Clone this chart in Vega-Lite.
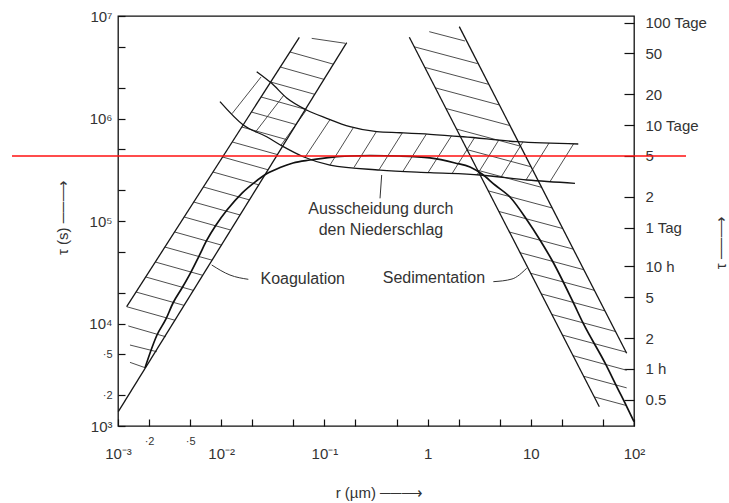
{
  "$schema": "https://vega.github.io/schema/vega-lite/v6.json",
  "width": 516,
  "height": 410,
  "autosize": "none",
  "padding": {"left": 118, "top": 16, "right": 95, "bottom": 77},
  "background": "white",
  "config": {
    "font": "Liberation Sans",
    "view": {"stroke": "#111", "strokeWidth": 1.3},
    "axis": {"grid": false, "domain": false, "labelColor": "#333", "titleColor": "#333", "tickColor": "#111", "tickWidth": 1.2, "titleFontWeight": "normal", "titleFontSize": 15, "labelOverlap": false, "labelFlush": false}
  },
  "datasets": {
    "hatch": [
      {"band": "Koagulation", "r1": -2.916, "t1": 4.164, "r2": -2.449, "t2": 4.032},
      {"band": "Koagulation", "r1": -2.825, "t1": 4.307, "r2": -2.360, "t2": 4.177},
      {"band": "Koagulation", "r1": -2.732, "t1": 4.454, "r2": -2.269, "t2": 4.323},
      {"band": "Koagulation", "r1": -2.639, "t1": 4.600, "r2": -2.179, "t2": 4.470},
      {"band": "Koagulation", "r1": -2.546, "t1": 4.746, "r2": -2.089, "t2": 4.618},
      {"band": "Koagulation", "r1": -2.452, "t1": 4.893, "r2": -1.998, "t2": 4.765},
      {"band": "Koagulation", "r1": -2.359, "t1": 5.039, "r2": -1.908, "t2": 4.912},
      {"band": "Koagulation", "r1": -2.266, "t1": 5.185, "r2": -1.818, "t2": 5.059},
      {"band": "Koagulation", "r1": -2.173, "t1": 5.332, "r2": -1.727, "t2": 5.206},
      {"band": "Koagulation", "r1": -2.080, "t1": 5.478, "r2": -1.637, "t2": 5.353},
      {"band": "Koagulation", "r1": -1.986, "t1": 5.624, "r2": -1.547, "t2": 5.500},
      {"band": "Koagulation", "r1": -1.893, "t1": 5.771, "r2": -1.455, "t2": 5.648},
      {"band": "Koagulation", "r1": -1.800, "t1": 5.917, "r2": -1.365, "t2": 5.794},
      {"band": "Koagulation", "r1": -1.707, "t1": 6.063, "r2": -1.275, "t2": 5.941},
      {"band": "Koagulation", "r1": -1.614, "t1": 6.210, "r2": -1.184, "t2": 6.089},
      {"band": "Koagulation", "r1": -1.521, "t1": 6.356, "r2": -1.094, "t2": 6.236},
      {"band": "Koagulation", "r1": -1.427, "t1": 6.502, "r2": -1.004, "t2": 6.382},
      {"band": "Koagulation", "r1": -1.334, "t1": 6.649, "r2": -0.913, "t2": 6.530},
      {"band": "Koagulation", "r1": -1.123, "t1": 6.782, "r2": -0.800, "t2": 6.734},
      {"band": "Koagulation", "r1": -2.900, "t1": 3.976, "r2": -2.538, "t2": 3.871},
      {"band": "Koagulation", "r1": -2.884, "t1": 3.790, "r2": -2.625, "t2": 3.725},
      {"band": "Koagulation", "r1": -2.884, "t1": 3.621, "r2": -2.738, "t2": 3.569},
      {"band": "Sedimentation", "r1": -0.131, "t1": 6.700, "r2": 0.485, "t2": 6.535},
      {"band": "Sedimentation", "r1": -0.028, "t1": 6.499, "r2": 0.588, "t2": 6.334},
      {"band": "Sedimentation", "r1": 0.075, "t1": 6.299, "r2": 0.691, "t2": 6.133},
      {"band": "Sedimentation", "r1": 0.177, "t1": 6.098, "r2": 0.794, "t2": 5.932},
      {"band": "Sedimentation", "r1": 0.280, "t1": 5.897, "r2": 0.896, "t2": 5.731},
      {"band": "Sedimentation", "r1": 0.383, "t1": 5.696, "r2": 0.999, "t2": 5.530},
      {"band": "Sedimentation", "r1": 0.485, "t1": 5.495, "r2": 1.102, "t2": 5.329},
      {"band": "Sedimentation", "r1": 0.588, "t1": 5.294, "r2": 1.204, "t2": 5.128},
      {"band": "Sedimentation", "r1": 0.691, "t1": 5.093, "r2": 1.307, "t2": 4.927},
      {"band": "Sedimentation", "r1": 0.794, "t1": 4.892, "r2": 1.410, "t2": 4.726},
      {"band": "Sedimentation", "r1": 0.896, "t1": 4.691, "r2": 1.513, "t2": 4.525},
      {"band": "Sedimentation", "r1": 0.999, "t1": 4.490, "r2": 1.615, "t2": 4.324},
      {"band": "Sedimentation", "r1": 1.102, "t1": 4.289, "r2": 1.718, "t2": 4.123},
      {"band": "Sedimentation", "r1": 1.204, "t1": 4.088, "r2": 1.821, "t2": 3.922},
      {"band": "Sedimentation", "r1": 1.307, "t1": 3.887, "r2": 1.923, "t2": 3.721},
      {"band": "Sedimentation", "r1": 1.410, "t1": 3.686, "r2": 1.929, "t2": 3.544},
      {"band": "Sedimentation", "r1": 1.513, "t1": 3.485, "r2": 1.929, "t2": 3.372},
      {"band": "Sedimentation", "r1": 1.615, "t1": 3.284, "r2": 1.929, "t2": 3.199},
      {"band": "Sedimentation", "r1": 0.016, "t1": 6.847, "r2": 0.362, "t2": 6.756},
      {"band": "Niederschlag", "r1": -1.895, "t1": 6.047, "r2": -1.614, "t2": 6.405},
      {"band": "Niederschlag", "r1": -1.663, "t1": 5.874, "r2": -1.392, "t2": 6.229},
      {"band": "Niederschlag", "r1": -1.421, "t1": 5.739, "r2": -1.174, "t2": 6.083},
      {"band": "Niederschlag", "r1": -1.188, "t1": 5.622, "r2": -0.946, "t2": 5.989},
      {"band": "Niederschlag", "r1": -0.946, "t1": 5.546, "r2": -0.718, "t2": 5.913},
      {"band": "Niederschlag", "r1": -0.713, "t1": 5.523, "r2": -0.497, "t2": 5.871},
      {"band": "Niederschlag", "r1": -0.471, "t1": 5.499, "r2": -0.245, "t2": 5.860},
      {"band": "Niederschlag", "r1": -0.238, "t1": 5.486, "r2": -0.012, "t2": 5.848},
      {"band": "Niederschlag", "r1": 0.004, "t1": 5.472, "r2": 0.232, "t2": 5.831},
      {"band": "Niederschlag", "r1": 0.236, "t1": 5.461, "r2": 0.454, "t2": 5.812},
      {"band": "Niederschlag", "r1": 0.479, "t1": 5.450, "r2": 0.690, "t2": 5.790},
      {"band": "Niederschlag", "r1": 0.711, "t1": 5.427, "r2": 0.924, "t2": 5.771},
      {"band": "Niederschlag", "r1": 0.954, "t1": 5.401, "r2": 1.177, "t2": 5.761},
      {"band": "Niederschlag", "r1": 1.186, "t1": 5.384, "r2": 1.415, "t2": 5.753}
    ],
    "edges": [
      {"id": "L", "o": 0, "r": -2.916, "t": 4.164}, {"id": "L", "o": 1, "r": -1.243, "t": 6.792},
      {"id": "R", "o": 0, "r": -2.997, "t": 3.140}, {"id": "R", "o": 1, "r": -0.784, "t": 6.740},
      {"id": "SL", "o": 0, "r": -0.177, "t": 6.792}, {"id": "SL", "o": 1, "r": 1.664, "t": 3.188},
      {"id": "SR", "o": 0, "r": 0.307, "t": 6.896}, {"id": "SR", "o": 1, "r": 1.929, "t": 3.709},
      {"id": "PU", "o": 0, "r": -1.656, "t": 6.457}, {"id": "PU", "o": 1, "r": -1.511, "t": 6.343},
      {"id": "PU", "o": 2, "r": -1.365, "t": 6.200}, {"id": "PU", "o": 3, "r": -1.172, "t": 6.083},
      {"id": "PU", "o": 4, "r": -0.978, "t": 6.002}, {"id": "PU", "o": 5, "r": -0.752, "t": 5.920},
      {"id": "PU", "o": 6, "r": -0.493, "t": 5.871}, {"id": "PU", "o": 7, "r": -0.267, "t": 5.861},
      {"id": "PU", "o": 8, "r": 0.023, "t": 5.846}, {"id": "PU", "o": 9, "r": 0.346, "t": 5.822},
      {"id": "PU", "o": 10, "r": 0.863, "t": 5.774}, {"id": "PU", "o": 11, "r": 1.460, "t": 5.751},
      {"id": "PL", "o": 0, "r": -2.012, "t": 6.164}, {"id": "PL", "o": 1, "r": -1.786, "t": 5.936},
      {"id": "PL", "o": 2, "r": -1.559, "t": 5.822}, {"id": "PL", "o": 3, "r": -1.398, "t": 5.725},
      {"id": "PL", "o": 4, "r": -1.205, "t": 5.627}, {"id": "PL", "o": 5, "r": -0.946, "t": 5.546},
      {"id": "PL", "o": 6, "r": -0.461, "t": 5.497}, {"id": "PL", "o": 7, "r": 0.023, "t": 5.471},
      {"id": "PL", "o": 8, "r": 0.508, "t": 5.449}, {"id": "PL", "o": 9, "r": 0.963, "t": 5.400},
      {"id": "PL", "o": 10, "r": 1.428, "t": 5.368}
    ],
    "curve": [
      {"o": 0, "r": -2.738, "t": 3.569}, {"o": 1, "r": -2.622, "t": 3.888},
      {"o": 2, "r": -2.535, "t": 4.044}, {"o": 3, "r": -2.467, "t": 4.200},
      {"o": 4, "r": -2.380, "t": 4.346}, {"o": 5, "r": -2.293, "t": 4.502},
      {"o": 6, "r": -2.215, "t": 4.658}, {"o": 7, "r": -2.138, "t": 4.815},
      {"o": 8, "r": -2.050, "t": 4.961}, {"o": 9, "r": -1.944, "t": 5.107},
      {"o": 10, "r": -1.798, "t": 5.273}, {"o": 11, "r": -1.673, "t": 5.380},
      {"o": 12, "r": -1.556, "t": 5.463}, {"o": 13, "r": -1.430, "t": 5.522},
      {"o": 14, "r": -1.304, "t": 5.566}, {"o": 15, "r": -1.140, "t": 5.595},
      {"o": 16, "r": -0.917, "t": 5.624}, {"o": 17, "r": -0.752, "t": 5.634},
      {"o": 18, "r": -0.558, "t": 5.639}, {"o": 19, "r": -0.267, "t": 5.634},
      {"o": 20, "r": 0.023, "t": 5.615}, {"o": 21, "r": 0.266, "t": 5.566},
      {"o": 22, "r": 0.411, "t": 5.527}, {"o": 23, "r": 0.527, "t": 5.458},
      {"o": 24, "r": 0.653, "t": 5.351}, {"o": 25, "r": 0.798, "t": 5.234},
      {"o": 26, "r": 0.963, "t": 5.010}, {"o": 27, "r": 1.089, "t": 4.815},
      {"o": 28, "r": 1.215, "t": 4.600}, {"o": 29, "r": 1.409, "t": 4.210},
      {"o": 30, "r": 1.506, "t": 4.005}, {"o": 31, "r": 1.719, "t": 3.615},
      {"o": 32, "r": 1.835, "t": 3.380}, {"o": 33, "r": 1.932, "t": 3.185},
      {"o": 34, "r": 2.000, "t": 3.042}
    ],
    "leaders": [
      {"id": "K", "o": 0, "r": -1.737, "t": 4.431}, {"id": "K", "o": 1, "r": -1.915, "t": 4.473}, {"id": "K", "o": 2, "r": -2.092, "t": 4.571},
      {"id": "S", "o": 0, "r": 0.637, "t": 4.408}, {"id": "S", "o": 1, "r": 0.818, "t": 4.434}, {"id": "S", "o": 2, "r": 0.960, "t": 4.539},
      {"id": "N", "o": 0, "r": -0.445, "t": 5.449}, {"id": "N", "o": 1, "r": -0.461, "t": 5.221}
    ],
    "notes": [
      {"txt": "Koagulation", "r": -1.210, "t": 4.431},
      {"txt": "Sedimentation", "r": 0.061, "t": 4.441},
      {"txt": "Ausscheidung durch", "r": -0.453, "t": 5.117},
      {"txt": "den Niederschlag", "r": -0.452, "t": 4.912}
    ],
    "marker": [
      {"r": -4.027, "r2": 2.504, "t": 5.634}
    ]
  },
  "layer": [
    {
      "data": {"name": "hatch"},
      "mark": {"type": "rule", "color": "#3a3a3a", "strokeWidth": 0.9},
      "encoding": {
        "x": {"field": "r1", "type": "quantitative", "scale": {"domain": [-3, 2], "nice": false, "zero": false},
          "axis": {
            "orient": "bottom",
            "values": [-3, -2.699, -2.301, -2, -1.699, -1.301, -1, -0.699, -0.301, 0, 0.301, 0.699, 1, 1.301, 1.699, 2],
            "labelExpr": "datum.value == -3 ? '10⁻³' : datum.value == -2.699 ? '·2' : datum.value == -2.301 ? '·5' : datum.value == -2 ? '10⁻²' : datum.value == -1 ? '10⁻¹' : datum.value == 0 ? '1' : datum.value == 1 ? '10' : datum.value == 2 ? '10²' : ''",
            "tickSize": -7,
            "labelPadding": 27,
            "labelFontSize": {"condition": {"test": "datum.value % 1 !== 0", "value": 11}, "value": 15},
            "labelBaseline": {"condition": {"test": "datum.value % 1 !== 0", "value": "bottom"}, "value": "top"},
            "title": "r (µm)   ──⟶",
            "titleX": 261, "titleY": 66, "titleAlign": "center", "titleBaseline": "middle", "titleAngle": 0
          }},
        "y": {"field": "t1", "type": "quantitative", "scale": {"domain": [3, 7], "nice": false, "zero": false},
          "axis": {
            "orient": "left",
            "values": [3, 3.301, 3.699, 4, 4.301, 4.699, 5, 5.301, 5.699, 6, 6.301, 6.699, 7],
            "labelExpr": "datum.value == 7 ? '10⁷' : datum.value == 6 ? '10⁶' : datum.value == 5 ? '10⁵' : datum.value == 4 ? '10⁴' : datum.value == 3 ? '10³' : datum.value == 3.699 ? '·5' : datum.value == 3.301 ? '·2' : ''",
            "tickSize": -7,
            "labelPadding": 13,
            "labelFontSize": {"condition": {"test": "datum.value % 1 !== 0", "value": 11}, "value": 15},
            "title": "τ (s)   ──⟶",
            "titleAngle": 270, "titleX": -56, "titleY": 201, "titleAlign": "center", "titleBaseline": "middle"
          }},
        "x2": {"field": "r2"},
        "y2": {"field": "t2"}
      }
    },
    {
      "data": {"name": "edges"},
      "mark": {"type": "line", "color": "#151515", "strokeWidth": 1.3, "interpolate": "monotone"},
      "encoding": {
        "x": {"field": "r", "type": "quantitative", "scale": {"domain": [-3, 2], "nice": false, "zero": false}, "axis": null},
        "y": {"field": "t", "type": "quantitative", "scale": {"domain": [3, 7], "nice": false, "zero": false},
          "axis": {
            "orient": "right",
            "values": [6.9365, 6.6355, 6.2375, 5.9365, 5.6355, 5.2375, 4.9365, 4.5563, 4.2553, 3.8573, 3.5563, 3.2553],
            "labelExpr": "datum.value > 6.9 ? '100 Tage' : datum.value > 6.6 ? '50' : datum.value > 6.2 ? '20' : datum.value > 5.9 ? '10 Tage' : datum.value > 5.6 ? '5' : datum.value > 5.2 ? '2' : datum.value > 4.9 ? '1 Tag' : datum.value > 4.5 ? '10 h' : datum.value > 4.2 ? '5' : datum.value > 3.8 ? '2' : datum.value > 3.5 ? '1 h' : '0.5'",
            "tickSize": -10,
            "labelPadding": 21,
            "labelFontSize": 15,
            "title": "τ   ──⟶",
            "titleAngle": 270, "titleX": 86, "titleY": 226, "titleAlign": "center", "titleBaseline": "middle"
          }},
        "detail": {"field": "id"},
        "order": {"field": "o", "type": "quantitative"}
      }
    },
    {
      "data": {"name": "curve"},
      "mark": {"type": "line", "color": "#111", "strokeWidth": 1.7, "interpolate": "monotone"},
      "encoding": {
        "x": {"field": "r", "type": "quantitative", "scale": {"domain": [-3, 2], "nice": false, "zero": false}, "axis": null},
        "y": {"field": "t", "type": "quantitative", "scale": {"domain": [3, 7], "nice": false, "zero": false}, "axis": null},
        "order": {"field": "o", "type": "quantitative"}
      }
    },
    {
      "data": {"name": "leaders"},
      "mark": {"type": "line", "color": "#333", "strokeWidth": 1, "interpolate": "monotone"},
      "encoding": {
        "x": {"field": "r", "type": "quantitative", "scale": {"domain": [-3, 2], "nice": false, "zero": false}, "axis": null},
        "y": {"field": "t", "type": "quantitative", "scale": {"domain": [3, 7], "nice": false, "zero": false}, "axis": null},
        "detail": {"field": "id"},
        "order": {"field": "o", "type": "quantitative"}
      }
    },
    {
      "data": {"name": "notes"},
      "mark": {"type": "text", "fontSize": 16, "color": "#333", "align": "center", "baseline": "middle"},
      "encoding": {
        "x": {"field": "r", "type": "quantitative", "scale": {"domain": [-3, 2], "nice": false, "zero": false}, "axis": null},
        "y": {"field": "t", "type": "quantitative", "scale": {"domain": [3, 7], "nice": false, "zero": false}, "axis": null},
        "text": {"field": "txt"}
      }
    },
    {
      "data": {"name": "marker"},
      "mark": {"type": "rule", "color": "#ff1111", "strokeWidth": 1.4},
      "encoding": {
        "x": {"field": "r", "type": "quantitative", "scale": {"domain": [-3, 2], "nice": false, "zero": false}, "axis": null},
        "x2": {"field": "r2"},
        "y": {"field": "t", "type": "quantitative", "scale": {"domain": [3, 7], "nice": false, "zero": false}, "axis": null}
      }
    }
  ],
  "resolve": {"axis": {"x": "independent", "y": "independent"}}
}
